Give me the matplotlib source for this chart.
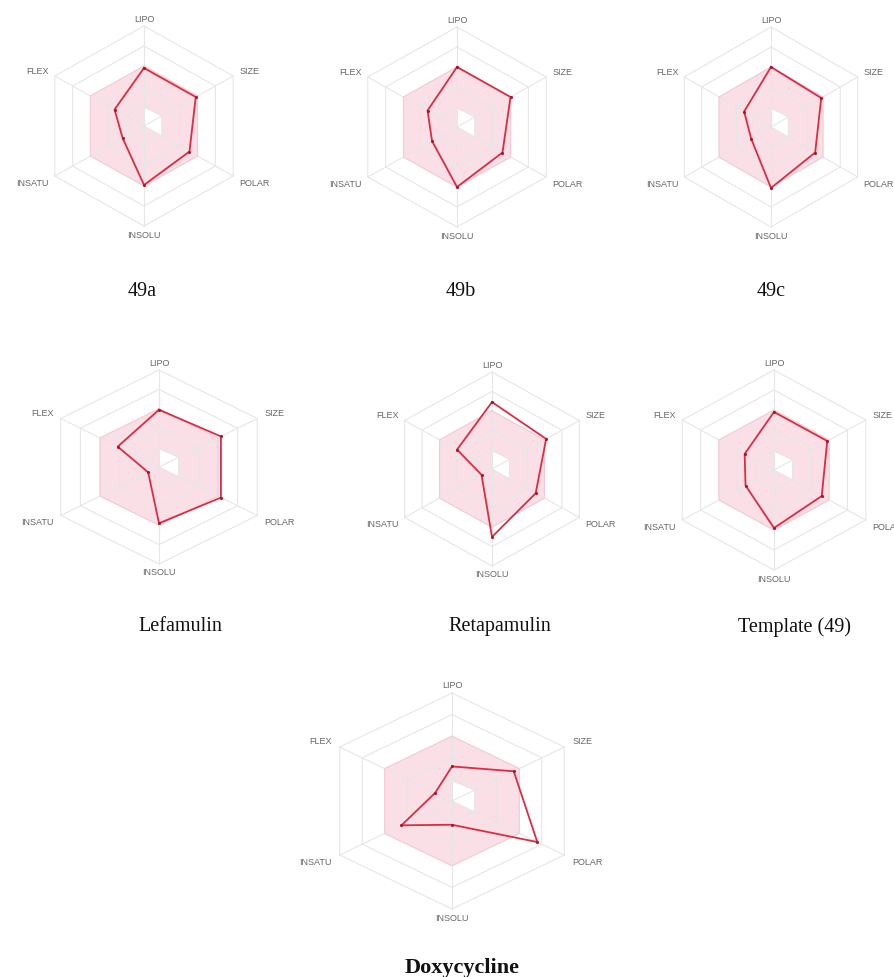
"""Bioavailability radars (SwissADME style) for the 49 series and reference drugs."""

import numpy as np
import matplotlib

matplotlib.use("Agg")
import matplotlib.pyplot as plt  # noqa: E402

# property axes, clockwise from the top
PROPS = ["LIPO", "SIZE", "POLAR", "INSOLU", "INSATU", "FLEX"]
ANGLES_DEG = [90, 30, -30, -90, -150, 150]

# normalised radar values (outer ring = 1), same order as PROPS
COMPOUNDS = ["49a", "49b", "49c", "Lefamulin", "Retapamulin", "Template (49)", "Doxycycline"]
V_49A = [0.58, 0.58, 0.51, 0.59, 0.24, 0.33]
V_49B = [0.60, 0.60, 0.51, 0.60, 0.28, 0.33]
V_49C = [0.60, 0.58, 0.51, 0.61, 0.23, 0.31]
V_LEFAMULIN = [0.59, 0.63, 0.63, 0.58, 0.11, 0.42]
V_RETAPAMULIN = [0.69, 0.62, 0.50, 0.70, 0.12, 0.40]
V_TEMPLATE = [0.58, 0.58, 0.52, 0.58, 0.31, 0.32]
V_DOXYCYCLINE = [0.32, 0.55, 0.76, 0.22, 0.45, 0.15]
VALUES = [V_49A, V_49B, V_49C, V_LEFAMULIN, V_RETAPAMULIN, V_TEMPLATE, V_DOXYCYCLINE]

# optimal physicochemical space (pink band)
OPTIMAL_OUTER = [0.6, 0.6, 0.6, 0.6, 0.6, 0.6]
OPTIMAL_INNER = [0.18, 0.2, 0.2, 0.0, 0.0, 0.0]
RINGS = [0.2, 0.4, 0.6, 0.8, 1.0]

W, H = 894, 978
LIM = 1.3

# panel layout in pixels: centre x, centre y, radius, horizontal stretch, title x, title y
LAYOUT = [
    (144, 127, 100, 1.03, 142, 292),
    (457, 128, 100, 1.03, 461, 292),
    (771, 128, 100, 1.00, 771, 292),
    (159, 468, 97, 1.17, 180, 627),
    (492, 470, 97, 1.04, 500, 627),
    (774, 471, 100, 1.06, 794, 627),
    (452, 802, 108, 1.20, 462, 968),
]

RED = "#dc2c43"
PINK = "#fbdfe6"
GRID = "#e6e6e6"

theta = np.deg2rad(ANGLES_DEG)


def polygon(r):
    r = np.asarray(r, dtype=float)
    x = r * np.cos(theta)
    y = r * np.sin(theta)
    return np.append(x, x[0]), np.append(y, y[0])


def draw_radar(ax, vals):
    ax.set_xlim(-LIM, LIM)
    ax.set_ylim(-LIM, LIM)
    ax.axis("off")

    ox, oy = polygon(OPTIMAL_OUTER)
    ax.fill(ox, oy, color=PINK, lw=0, zorder=1)
    ix, iy = polygon(OPTIMAL_INNER)
    ax.fill(ix, iy, color="white", lw=0, zorder=1.5)

    for ring in RINGS:
        gx, gy = polygon([ring] * 6)
        ax.plot(gx, gy, color=GRID, lw=0.8, zorder=2)
    for t in theta:
        ax.plot([0, np.cos(t)], [0, np.sin(t)], color=GRID, lw=0.8, zorder=2)
    ax.plot(ox, oy, color="#f6cbd5", lw=0.8, zorder=2.2)

    px, py = polygon(vals)
    ax.plot(px, py, color=RED, lw=1.3, zorder=3)
    ax.scatter(px[:-1], py[:-1], s=5, color="#a8182b", zorder=4, lw=0)

    for name, t in zip(PROPS, theta):
        c, s = np.cos(t), np.sin(t)
        if abs(c) < 0.1:
            ha = "center"
            x, y = 0, 1.08 * np.sign(s)
        else:
            ha = "left" if c > 0 else "right"
            x, y = 1.07 * c, 1.12 * s
        ax.text(x, y, name, ha=ha, va="center", fontsize=6.5, color="#666666",
                family=["Liberation Sans", "DejaVu Sans"], zorder=5)


fig = plt.figure(figsize=(W / 100, H / 100), dpi=100)
fig.patch.set_facecolor("white")

for name, vals, (cx, cy, rad, stretch, tx, ty) in zip(COMPOUNDS, VALUES, LAYOUT):
    wpx = 2 * LIM * rad * stretch
    hpx = 2 * LIM * rad
    ax = fig.add_axes([(cx - wpx / 2) / W, (H - cy - hpx / 2) / H, wpx / W, hpx / H])
    draw_radar(ax, vals)
    bold = name == "Doxycycline"
    fig.text(tx / W, 1 - ty / H, name, ha="center", va="center",
             fontsize=16 if bold else 14.5, fontweight="bold" if bold else "normal",
             family=["Liberation Serif", "DejaVu Serif"], color="#111111")

fig.savefig("out.png", dpi=100, facecolor="white")
